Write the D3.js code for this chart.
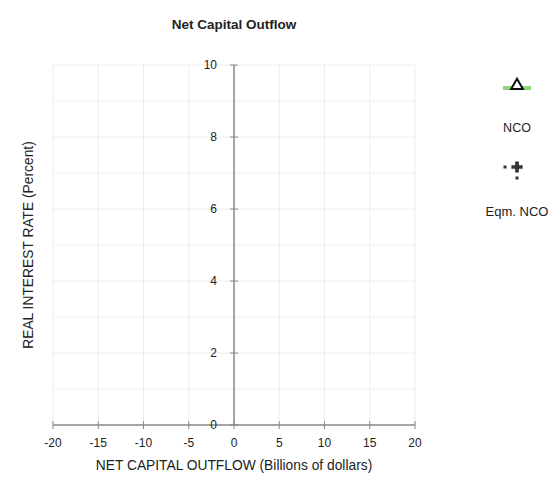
<!DOCTYPE html>
<html>
<head>
<meta charset="utf-8">
<script src="https://cdn.jsdelivr.net/npm/d3@7"></script>
<style>
  body { margin: 0; background: #fff; }
  svg text { font-family: "Liberation Sans", Arial, Helvetica, sans-serif; fill: #222; }
</style>
</head>
<body>
<svg id="chart" width="560" height="482"></svg>
<script>
// chart values
const chartTitle = 'Net Capital Outflow';
const xLabel = 'NET CAPITAL OUTFLOW (Billions of dollars)';
const yLabel = 'REAL INTEREST RATE (Percent)';
const xDomain = [-20, 20];
const yDomain = [0, 10];
const xTicks = [-20, -15, -10, -5, 0, 5, 10, 15, 20];
const yTicks = [0, 2, 4, 6, 8, 10];
const yGrid = [0, 1, 2, 3, 4, 5, 6, 7, 8, 9, 10];
const legendNames = ['NCO', 'Eqm. NCO'];

const svg = d3.select('#chart');
const margin = { left: 53, right: 145, top: 65, bottom: 57 };
const W = 560, H = 482;

const x = d3.scaleLinear().domain(xDomain).range([margin.left, W - margin.right]);
const y = d3.scaleLinear().domain(yDomain).range([H - margin.bottom, margin.top]);

// grid
const grid = svg.append('g').attr('stroke', '#ececec').attr('stroke-width', 1);
grid.selectAll('line.v').data(xTicks).enter().append('line')
    .attr('x1', d => x(d)).attr('x2', d => x(d))
    .attr('y1', y(yDomain[0])).attr('y2', y(yDomain[1]));
grid.selectAll('line.h').data(yGrid).enter().append('line')
    .attr('x1', x(xDomain[0])).attr('x2', x(xDomain[1]))
    .attr('y1', d => y(d)).attr('y2', d => y(d));

// x axis on y=0
let xAxis = svg.append('g').attr('transform', `translate(0,${y(0)})`);
xAxis.append('line').attr('x1', x(xDomain[0])).attr('x2', x(xDomain[1]))
    .attr('stroke', '#8a8a8a').attr('stroke-width', 1.5);
xAxis.selectAll('line.t').data(xTicks).enter().append('line')
    .attr('x1', d => x(d)).attr('x2', d => x(d)).attr('y1', -4).attr('y2', 4)
    .attr('stroke', '#8a8a8a');
xAxis.selectAll('text').data(xTicks).enter().append('text')
    .attr('x', d => x(d)).attr('y', 22).attr('text-anchor', 'middle')
    .attr('font-size', 12).text(d => d);

// y axis on x=0
let yAxis = svg.append('g').attr('transform', `translate(${x(0)},0)`);
yAxis.append('line').attr('y1', y(yDomain[0])).attr('y2', y(yDomain[1]))
    .attr('stroke', '#8a8a8a').attr('stroke-width', 1.5);
yAxis.selectAll('line.t').data(yTicks).enter().append('line')
    .attr('y1', d => y(d)).attr('y2', d => y(d)).attr('x1', -4).attr('x2', 4)
    .attr('stroke', '#8a8a8a');
yAxis.selectAll('text').data(yTicks).enter().append('text')
    .attr('x', -17).attr('y', d => y(d)).attr('dy', '0.35em').attr('text-anchor', 'end')
    .attr('font-size', 12).text(d => d);

// titles
svg.append('text').attr('x', x(0)).attr('y', 29).attr('text-anchor', 'middle')
    .attr('font-size', 13.5).attr('font-weight', 'bold').text(chartTitle);
svg.append('text').attr('x', x(0)).attr('y', 470).attr('text-anchor', 'middle')
    .attr('font-size', 13.8).text(xLabel);
svg.append('text').attr('transform', `translate(33,${(y(0) + y(10)) / 2}) rotate(-90)`)
    .attr('text-anchor', 'middle').attr('font-size', 13.8).text(yLabel);

// legend
let lg = svg.append('g').attr('transform', 'translate(517,0)');
lg.append('line').attr('x1', -14).attr('x2', 14).attr('y1', 88).attr('y2', 88)
    .attr('stroke', '#8fd77a').attr('stroke-width', 4);
lg.append('path').attr('d', d3.symbol(d3.symbolTriangle, 60)())
    .attr('transform', 'translate(0,85.5)')
    .attr('fill', '#fff').attr('stroke', '#111').attr('stroke-width', 2);
lg.append('text').attr('x', 0).attr('y', 132).attr('text-anchor', 'middle')
    .attr('font-size', 12.5).text(legendNames[0]);
lg.append('rect').attr('x', -13.5).attr('y', 165.5).attr('width', 3).attr('height', 3).attr('fill', '#333');
lg.append('rect').attr('x', -1.5).attr('y', 176.5).attr('width', 3).attr('height', 3).attr('fill', '#333');
lg.append('path').attr('d', d3.symbol(d3.symbolCross, 70)())
    .attr('transform', 'translate(0,167)').attr('fill', '#333');
lg.append('text').attr('x', 0).attr('y', 216).attr('text-anchor', 'middle')
    .attr('font-size', 13).text(legendNames[1]);
</script>
</body>
</html>
